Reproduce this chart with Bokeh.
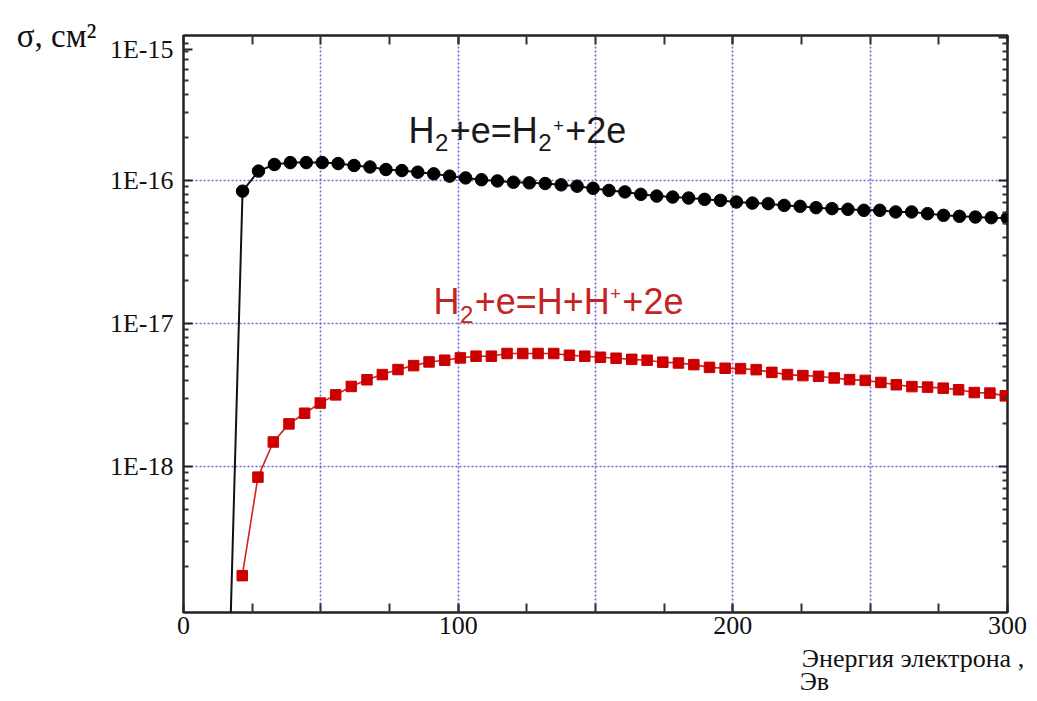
from bokeh.plotting import figure
from bokeh.models import (Range1d, FixedTicker, LinearAxis, LogAxis, Label,
                          CustomJSTickFormatter)
from bokeh.embed import file_html
from bokeh.resources import INLINE

# ---- data (electron energy in eV, cross-sections in cm^2) ----
ion_energy = [21.5, 27.3, 33.1, 38.9, 44.7, 50.5, 56.3, 62.1, 67.9, 73.7, 79.5,
              85.3, 91.1, 96.9, 102.7, 108.5, 114.3, 120.1, 125.9, 131.7, 137.5,
              143.3, 149.1, 154.9, 160.7, 166.5, 172.3, 178.1, 183.9, 189.7, 195.5,
              201.3, 207.1, 212.9, 218.7, 224.5, 230.3, 236.1, 241.9, 247.7, 253.5,
              259.3, 265.1, 270.9, 276.7, 282.5, 288.3, 294.1, 299.9]
ion_sigma_e17 = [8.4, 11.6, 12.9, 13.3, 13.3, 13.3, 13.1, 12.7, 12.4, 11.9, 11.7,
                 11.4, 11.1, 10.7, 10.4, 10.1, 9.9, 9.7, 9.6, 9.5, 9.3,
                 9.1, 8.8, 8.5, 8.3, 7.98, 7.76, 7.64, 7.52, 7.36, 7.24,
                 7.05, 6.93, 6.87, 6.68, 6.58, 6.44, 6.34, 6.27, 6.17, 6.17,
                 6.01, 6.01, 5.85, 5.69, 5.60, 5.54, 5.48, 5.45]
ion_onset_energy = 16.5
ion_onset_sigma = 3e-20

diss_energy = [21.4, 27.1, 32.7, 38.4, 44.1, 49.8, 55.4, 61.1, 66.8, 72.4, 78.1,
               83.8, 89.4, 95.1, 100.8, 106.5, 112.1, 117.8, 123.5, 129.1, 134.8,
               140.5, 146.1, 151.8, 157.5, 163.2, 168.8, 174.5, 180.2, 185.8, 191.5,
               197.2, 202.8, 208.5, 214.2, 219.9, 225.5, 231.2, 236.9, 242.5, 248.2,
               253.9, 259.5, 265.2, 270.9, 276.6, 282.2, 287.9, 293.6, 299.2]
diss_sigma_e18 = [0.172, 0.84, 1.48, 1.98, 2.35, 2.77, 3.16, 3.62, 4.03, 4.38, 4.75,
                  5.06, 5.37, 5.52, 5.73, 5.89, 5.89, 6.15, 6.15, 6.15, 6.15,
                  5.98, 5.89, 5.79, 5.7, 5.6, 5.52, 5.35, 5.28, 5.14, 4.92,
                  4.85, 4.82, 4.74, 4.54, 4.38, 4.31, 4.26, 4.15, 4.04, 3.99,
                  3.86, 3.72, 3.61, 3.58, 3.52, 3.43, 3.28, 3.25, 3.11]

x_tick_labels = [0, 100, 200, 300]
y_decades = [1e-18, 1e-17, 1e-16, 1e-15]

y_title = "σ, см²"
x_title_line1 = "Энергия электрона ,"
x_title_line2 = "Эв"
label_ion = [("H", "n"), ("2", "sub"), ("+e=H", "n"), ("2", "sub"), ("+", "sup"), ("+2e", "n")]
label_diss = [("H", "n"), ("2", "sub"), ("+e=H+H", "n"), ("+", "sup"), ("+2e", "n")]

ion_sigma = [v * 1e-17 for v in ion_sigma_e17]
diss_sigma = [v * 1e-18 for v in diss_sigma_e18]

p = figure(width=1035, height=698, x_range=Range1d(0, 300),
           y_range=Range1d(9.5e-20, 1.03e-15), y_axis_type="log",
           output_backend="svg", toolbar_location=None,
           min_border_left=183, min_border_right=28,
           min_border_top=35, min_border_bottom=86)
p.background_fill_color = "white"
p.border_fill_color = "white"
p.outline_line_color = "#222222"
p.outline_line_width = 2.5

minor_y = [k * d for d in [1e-19, 1e-18, 1e-17, 1e-16] for k in range(2, 10)]
minor_x = [25 * i for i in range(1, 12)]

serif = "Liberation Serif"
blank = CustomJSTickFormatter(code="return '';")
decade_fmt = CustomJSTickFormatter(code="return '1E' + Math.round(Math.log10(tick));")


def style_ticks(ax, maj_in, min_in):
    ax.axis_line_color = None
    ax.major_tick_in = maj_in
    ax.major_tick_out = 0
    ax.minor_tick_in = min_in
    ax.minor_tick_out = 0
    ax.major_tick_line_width = 2
    ax.minor_tick_line_width = 2
    ax.major_tick_line_color = "#222"
    ax.minor_tick_line_color = "#333"


# bottom axis
xa = p.xaxis[0]
xa.ticker = FixedTicker(ticks=x_tick_labels, minor_ticks=minor_x)
style_ticks(xa, 8, 9)
xa.major_label_text_font = serif
xa.major_label_text_font_size = "26px"
xa.major_label_text_color = "#111"
xa.major_label_standoff = 4

# x-axis title, two lines, as extra tickless axes below
for text, pos, standoff in [(x_title_line1, 265.6, 7), (x_title_line2, 229.7, -9)]:
    ax = LinearAxis(ticker=FixedTicker(ticks=[pos], minor_ticks=[]),
                    formatter=CustomJSTickFormatter(code="return %r;" % text),
                    axis_line_color=None, major_tick_line_color=None,
                    minor_tick_line_color=None, major_tick_out=0, major_tick_in=0,
                    minor_tick_out=0, minor_tick_in=0,
                    major_label_standoff=standoff,
                    major_label_text_font=serif, major_label_text_font_size="26px",
                    major_label_text_color="#111")
    p.add_layout(ax, "below")

# left axis (1E-15 label sits a little below the top edge, as in the original)
ya = p.yaxis[0]
ya.ticker = FixedTicker(ticks=y_decades[:3] + [8.24e-16], minor_ticks=minor_y)
ya.formatter = decade_fmt
style_ticks(ya, 9, 5)
ya.major_label_text_font = serif
ya.major_label_text_font_size = "26px"
ya.major_label_text_color = "#111"
ya.major_label_standoff = 10

# y-axis title at the top-left, as an extra tickless axis
yt = LogAxis(ticker=FixedTicker(ticks=[1.025e-15], minor_ticks=[]),
             formatter=CustomJSTickFormatter(code="return %r;" % y_title),
             axis_line_color=None, major_tick_line_color=None,
             minor_tick_line_color=None, major_tick_out=0, major_tick_in=0,
             minor_tick_out=0, minor_tick_in=0, major_label_standoff=10,
             major_label_text_font=serif, major_label_text_font_size="33px",
             major_label_text_color="#111")
p.add_layout(yt, "left")

top = LinearAxis(ticker=FixedTicker(ticks=x_tick_labels, minor_ticks=minor_x),
                 formatter=blank)
style_ticks(top, 8, 9)
p.add_layout(top, "above")
right = LogAxis(ticker=FixedTicker(ticks=y_decades, minor_ticks=minor_y),
                formatter=blank)
style_ticks(right, 9, 5)
p.add_layout(right, "right")

# grids
p.xgrid.ticker = FixedTicker(ticks=[50, 100, 150, 200, 250])
p.ygrid.ticker = FixedTicker(ticks=y_decades[:3])
for g in (p.xgrid[0], p.ygrid[0]):
    g.grid_line_color = "#5050cc"
    g.grid_line_alpha = 0.85
    g.grid_line_width = 1.6
    g.grid_line_dash = "2 2"

# series
p.line([ion_onset_energy] + ion_energy, [ion_onset_sigma] + ion_sigma,
       line_color="#111111", line_width=2)
p.scatter(ion_energy, ion_sigma, marker="circle", size=12.5,
          fill_color="black", line_color="black")
p.line(diss_energy, diss_sigma, line_color="#d02020", line_width=1.6)
p.scatter(diss_energy, diss_sigma, marker="square", size=10.5,
          fill_color="#cc0000", line_color="#cc0000")

# formula annotations
W = {"H": 0.722, "+": 0.584, "e": 0.556, "=": 0.584, "2": 0.556}


def formula(pieces, x, y, color, size, sub_size, sub_dy, sup_size, sup_dy, base_dy):
    off = 0.0
    for txt, kind in pieces:
        if kind == "n":
            fs, dy = size, 0
        elif kind == "sub":
            fs, dy = sub_size, sub_dy
        else:
            fs, dy = sup_size, sup_dy
        p.add_layout(Label(x=x, y=y, x_offset=off, y_offset=dy + base_dy, text=txt,
                           text_font="Liberation Sans", text_font_size=f"{fs}px",
                           text_color=color, text_baseline="alphabetic"))
        off += sum(W[c] for c in txt) * fs + (1.5 if kind != "n" else 0.5)


formula(label_ion, 81.9, 1.845e-16, "#1a1a1a", 36, 24, -12, 18, 5, 12)
formula(label_diss, 91.0, 1.175e-17, "#c42323", 36, 24, -13, 18, 8, 12)

open("out.html", "w").write(file_html(p, INLINE))
